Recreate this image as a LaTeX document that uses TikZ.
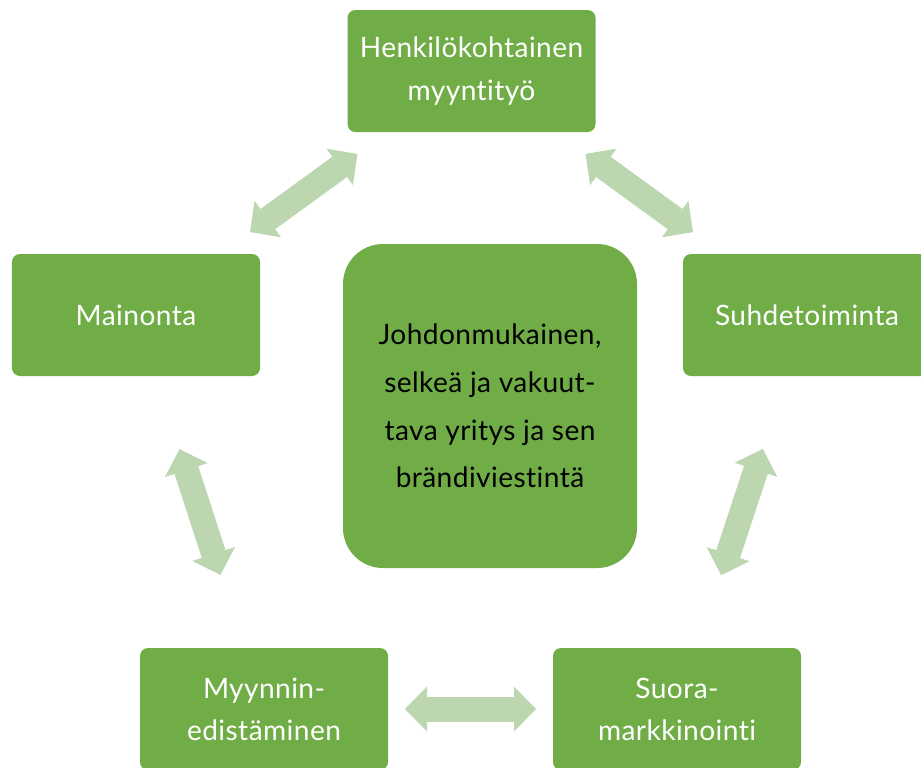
\documentclass[tikz,border=0pt]{standalone}
\usepackage{fontspec}
\setmainfont{Lato}[Ligatures=NoCommon, LetterSpace=1.5]
\usetikzlibrary{arrows.meta}
\definecolor{boxgreen}{RGB}{112,173,71}
\definecolor{arrowgreen}{RGB}{188,214,176}
\begin{document}
\begin{tikzpicture}[x=0.2mm,y=-0.2mm,
		box/.style={fill=boxgreen, rounded corners=1.6mm, minimum width=49.6mm, minimum height=24.4mm, text=white, align=center, font=\fontsize{16}{24}\selectfont},
		core/.style={fill=boxgreen, rounded corners=8mm, minimum width=58.8mm, minimum height=64.8mm, align=center, font=\fontsize{16}{27.2}\selectfont},
		link/.style={arrowgreen, line width=5mm, shorten <=28.2mm, shorten >=28.2mm,
			{Triangle[length=4.4mm, width=9mm, line width=0pt]}-{Triangle[length=4.4mm, width=9mm, line width=0pt]}}]
	\useasboundingbox (0,0) rectangle (921,767);
	% boxes
	\node[box] (henk) at (471.5,71) {Henkilökohtainen\\myyntityö};
	\node[box] (main) at (136,315) {Mainonta};
	\node[box] (suhde) at (807,315) {Suhdetoiminta};
	\node[box] (myyn) at (264,709) {Myynnin-\\edistäminen};
	\node[box] (suora) at (677,709) {Suora-\\markkinointi};
	% center
	\node[core] (brand) at (490,406) {Johdonmukainen,\\selkeä ja vakuut-\\tava yritys ja sen\\brändiviestintä};
	% arrows between boxes
	\draw[link] (main.center) -- (henk.center);
	\draw[link] (henk.center) -- (suhde.center);
	\draw[link] (main.center) -- (myyn.center);
	\draw[link] (suhde.center) -- (suora.center);
	\draw[link] (myyn.center) -- (suora.center);
\end{tikzpicture}
\end{document}
